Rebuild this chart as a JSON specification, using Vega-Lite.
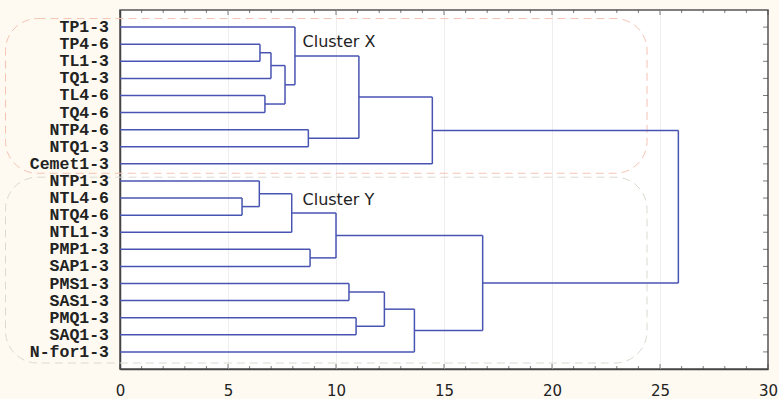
{
  "$schema": "https://vega.github.io/schema/vega-lite/v6.json",
  "width": 648,
  "height": 359,
  "autosize": {"type": "none"},
  "padding": {"left": 120, "top": 10, "right": 11, "bottom": 30},
  "background": "#fefaf1",
  "config": {"view": {"fill": "white", "stroke": "#555", "strokeWidth": 1.5}},
  "datasets": {
    "segs": [
      {"x": 0, "x2": 6.48, "y": 2, "y2": 2},
      {"x": 0, "x2": 6.48, "y": 3, "y2": 3},
      {"x": 6.48, "x2": 6.48, "y": 2, "y2": 3},
      {"x": 6.48, "x2": 6.99, "y": 2.5, "y2": 2.5},
      {"x": 0, "x2": 6.99, "y": 4, "y2": 4},
      {"x": 6.99, "x2": 6.99, "y": 2.5, "y2": 4},
      {"x": 0, "x2": 6.71, "y": 5, "y2": 5},
      {"x": 0, "x2": 6.71, "y": 6, "y2": 6},
      {"x": 6.71, "x2": 6.71, "y": 5, "y2": 6},
      {"x": 6.99, "x2": 7.64, "y": 3.25, "y2": 3.25},
      {"x": 6.71, "x2": 7.64, "y": 5.5, "y2": 5.5},
      {"x": 7.64, "x2": 7.64, "y": 3.25, "y2": 5.5},
      {"x": 0, "x2": 8.1, "y": 1, "y2": 1},
      {"x": 7.64, "x2": 8.1, "y": 4.375, "y2": 4.375},
      {"x": 8.1, "x2": 8.1, "y": 1, "y2": 4.375},
      {"x": 0, "x2": 8.72, "y": 7, "y2": 7},
      {"x": 0, "x2": 8.72, "y": 8, "y2": 8},
      {"x": 8.72, "x2": 8.72, "y": 7, "y2": 8},
      {"x": 8.1, "x2": 11.06, "y": 2.6875, "y2": 2.6875},
      {"x": 8.72, "x2": 11.06, "y": 7.5, "y2": 7.5},
      {"x": 11.06, "x2": 11.06, "y": 2.6875, "y2": 7.5},
      {"x": 11.06, "x2": 14.46, "y": 5.09375, "y2": 5.09375},
      {"x": 0, "x2": 14.46, "y": 9, "y2": 9},
      {"x": 14.46, "x2": 14.46, "y": 5.09375, "y2": 9},
      {"x": 0, "x2": 5.65, "y": 11, "y2": 11},
      {"x": 0, "x2": 5.65, "y": 12, "y2": 12},
      {"x": 5.65, "x2": 5.65, "y": 11, "y2": 12},
      {"x": 0, "x2": 6.45, "y": 10, "y2": 10},
      {"x": 5.65, "x2": 6.45, "y": 11.5, "y2": 11.5},
      {"x": 6.45, "x2": 6.45, "y": 10, "y2": 11.5},
      {"x": 6.45, "x2": 7.95, "y": 10.75, "y2": 10.75},
      {"x": 0, "x2": 7.95, "y": 13, "y2": 13},
      {"x": 7.95, "x2": 7.95, "y": 10.75, "y2": 13},
      {"x": 0, "x2": 8.8, "y": 14, "y2": 14},
      {"x": 0, "x2": 8.8, "y": 15, "y2": 15},
      {"x": 8.8, "x2": 8.8, "y": 14, "y2": 15},
      {"x": 7.95, "x2": 10.0, "y": 11.875, "y2": 11.875},
      {"x": 8.8, "x2": 10.0, "y": 14.5, "y2": 14.5},
      {"x": 10.0, "x2": 10.0, "y": 11.875, "y2": 14.5},
      {"x": 0, "x2": 10.6, "y": 16, "y2": 16},
      {"x": 0, "x2": 10.6, "y": 17, "y2": 17},
      {"x": 10.6, "x2": 10.6, "y": 16, "y2": 17},
      {"x": 0, "x2": 10.93, "y": 18, "y2": 18},
      {"x": 0, "x2": 10.93, "y": 19, "y2": 19},
      {"x": 10.93, "x2": 10.93, "y": 18, "y2": 19},
      {"x": 10.6, "x2": 12.24, "y": 16.5, "y2": 16.5},
      {"x": 10.93, "x2": 12.24, "y": 18.5, "y2": 18.5},
      {"x": 12.24, "x2": 12.24, "y": 16.5, "y2": 18.5},
      {"x": 12.24, "x2": 13.63, "y": 17.5, "y2": 17.5},
      {"x": 0, "x2": 13.63, "y": 20, "y2": 20},
      {"x": 13.63, "x2": 13.63, "y": 17.5, "y2": 20},
      {"x": 10.0, "x2": 16.79, "y": 13.1875, "y2": 13.1875},
      {"x": 13.63, "x2": 16.79, "y": 18.75, "y2": 18.75},
      {"x": 16.79, "x2": 16.79, "y": 13.1875, "y2": 18.75},
      {"x": 14.46, "x2": 25.85, "y": 7.046875, "y2": 7.046875},
      {"x": 16.79, "x2": 25.85, "y": 15.96875, "y2": 15.96875},
      {"x": 25.85, "x2": 25.85, "y": 7.046875, "y2": 15.96875}
    ],
    "leaves": [
      {"leaf": "TP1-3", "pos": 1},
      {"leaf": "TP4-6", "pos": 2},
      {"leaf": "TL1-3", "pos": 3},
      {"leaf": "TQ1-3", "pos": 4},
      {"leaf": "TL4-6", "pos": 5},
      {"leaf": "TQ4-6", "pos": 6},
      {"leaf": "NTP4-6", "pos": 7},
      {"leaf": "NTQ1-3", "pos": 8},
      {"leaf": "Cemet1-3", "pos": 9},
      {"leaf": "NTP1-3", "pos": 10},
      {"leaf": "NTL4-6", "pos": 11},
      {"leaf": "NTQ4-6", "pos": 12},
      {"leaf": "NTL1-3", "pos": 13},
      {"leaf": "PMP1-3", "pos": 14},
      {"leaf": "SAP1-3", "pos": 15},
      {"leaf": "PMS1-3", "pos": 16},
      {"leaf": "SAS1-3", "pos": 17},
      {"leaf": "PMQ1-3", "pos": 18},
      {"leaf": "SAQ1-3", "pos": 19},
      {"leaf": "N-for1-3", "pos": 20}
    ],
    "xmajor": [{"v": 0}, {"v": 5}, {"v": 10}, {"v": 15}, {"v": 20}, {"v": 25}, {"v": 30}],
    "xminor": [{"v": 1}, {"v": 2}, {"v": 3}, {"v": 4}, {"v": 6}, {"v": 7}, {"v": 8}, {"v": 9}, {"v": 11}, {"v": 12}, {"v": 13}, {"v": 14}, {"v": 16}, {"v": 17}, {"v": 18}, {"v": 19}, {"v": 21}, {"v": 22}, {"v": 23}, {"v": 24}, {"v": 26}, {"v": 27}, {"v": 28}, {"v": 29}],
    "clusters": [
      {"name": "Cluster X", "x0": -5.3, "x1": 24.4, "y0": 0.5, "y1": 9.55, "lx": 8.45, "ly": 1.9, "c": "X"},
      {"name": "Cluster Y", "x0": -5.3, "x1": 24.4, "y0": 9.78, "y1": 20.65, "lx": 8.45, "ly": 11.1, "c": "Y"}
    ]
  },
  "resolve": {"axis": {"x": "independent", "y": "independent"}},
  "layer": [
    {
      "data": {"name": "clusters"},
      "mark": {"type": "rect", "fill": null, "strokeWidth": 1, "strokeDash": [8, 5], "cornerRadius": 32, "clip": false},
      "encoding": {
        "x": {
          "field": "x0", "type": "quantitative",
          "scale": {"domain": [0, 30], "nice": false},
          "axis": {
            "orient": "bottom", "title": null,
            "values": [0, 5, 10, 15, 20, 25, 30],
            "labelFont": "DejaVu Sans", "labelFontSize": 15, "labelColor": "#222",
            "labelPadding": 14, "labelFlush": false,
            "ticks": false, "domainColor": "#444", "domainWidth": 1.5,
            "grid": true, "gridColor": "#eeeeee",
            "gridOpacity": {"condition": {"test": "datum.value > 0 && datum.value < 30", "value": 1}, "value": 0}
          }
        },
        "x2": {"field": "x1"},
        "y": {
          "field": "y0", "type": "quantitative",
          "scale": {"domain": [0, 21], "reverse": true, "nice": false, "zero": false},
          "axis": {"orient": "left", "title": null, "labels": false, "ticks": false, "grid": false, "domainColor": "#444", "domainWidth": 1.5}
        },
        "y2": {"field": "y1"},
        "stroke": {"field": "c", "type": "nominal", "scale": {"domain": ["X", "Y"], "range": ["#f5c4b4", "#ddd9cf"]}, "legend": null}
      }
    },
    {
      "data": {"name": "xmajor"},
      "mark": {"type": "tick", "orient": "vertical", "size": 5, "thickness": 1, "color": "#444", "yOffset": -2.5, "clip": false},
      "encoding": {
        "x": {"field": "v", "type": "quantitative", "axis": null},
        "y": {"datum": 21, "type": "quantitative", "axis": null}
      }
    },
    {
      "data": {"name": "xmajor"},
      "mark": {"type": "tick", "orient": "vertical", "size": 5, "thickness": 1, "color": "#444", "yOffset": 2.5, "clip": false},
      "encoding": {
        "x": {"field": "v", "type": "quantitative", "axis": null},
        "y": {"datum": 0, "type": "quantitative", "axis": null}
      }
    },
    {
      "data": {"name": "xminor"},
      "mark": {"type": "tick", "orient": "vertical", "size": 3, "thickness": 1, "color": "#444", "yOffset": -1.5, "clip": false},
      "encoding": {
        "x": {"field": "v", "type": "quantitative", "axis": null},
        "y": {"datum": 21, "type": "quantitative", "axis": null}
      }
    },
    {
      "data": {"name": "xminor"},
      "mark": {"type": "tick", "orient": "vertical", "size": 3, "thickness": 1, "color": "#444", "yOffset": 1.5, "clip": false},
      "encoding": {
        "x": {"field": "v", "type": "quantitative", "axis": null},
        "y": {"datum": 0, "type": "quantitative", "axis": null}
      }
    },
    {
      "data": {"name": "leaves"},
      "mark": {"type": "tick", "orient": "horizontal", "size": 5, "thickness": 1, "color": "#444", "xOffset": -2.5, "clip": false},
      "encoding": {
        "x": {"datum": 30, "type": "quantitative", "axis": null},
        "y": {"field": "pos", "type": "quantitative", "axis": null}
      }
    },
    {
      "data": {"name": "segs"},
      "mark": {"type": "rule", "color": "#4854b2", "strokeWidth": 1.5},
      "encoding": {
        "x": {"field": "x", "type": "quantitative", "axis": null},
        "x2": {"field": "x2"},
        "y": {"field": "y", "type": "quantitative", "axis": null},
        "y2": {"field": "y2"}
      }
    },
    {
      "data": {"name": "clusters"},
      "mark": {"type": "text", "align": "left", "baseline": "middle", "font": "DejaVu Sans", "fontSize": 16, "color": "#222", "clip": false},
      "encoding": {
        "x": {"field": "lx", "type": "quantitative", "axis": null},
        "y": {"field": "ly", "type": "quantitative", "axis": null},
        "text": {"field": "name"}
      }
    },
    {
      "data": {"name": "leaves"},
      "mark": {"type": "text", "align": "right", "baseline": "middle", "dx": -11, "font": "Liberation Mono", "fontWeight": "bold", "fontSize": 16.5, "color": "#222", "clip": false},
      "encoding": {
        "x": {"datum": 0, "type": "quantitative", "axis": null},
        "y": {"field": "pos", "type": "quantitative", "axis": null},
        "text": {"field": "leaf"}
      }
    }
  ]
}
